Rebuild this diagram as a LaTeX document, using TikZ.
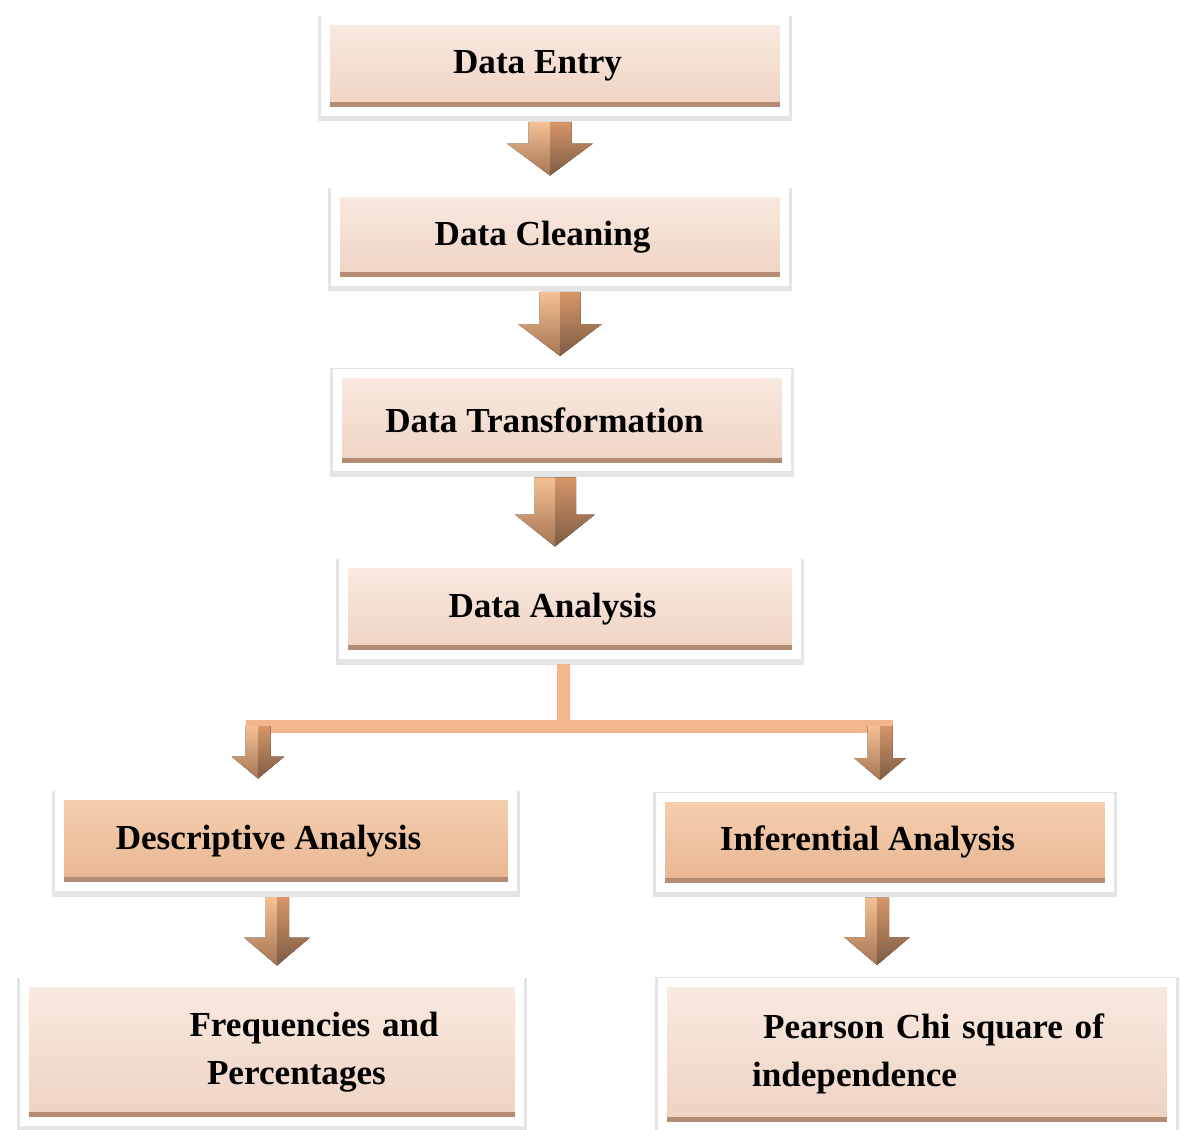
\documentclass[tikz,border=0pt]{standalone}
\usepackage{fontspec}
\setmainfont{Liberation Serif}
\usetikzlibrary{calc}

\definecolor{paletop}{RGB}{250,234,225}
\definecolor{palebot}{RGB}{238,210,194}
\definecolor{deeptop}{RGB}{245,208,178}
\definecolor{deepbot}{RGB}{232,180,144}
\definecolor{bevel}{RGB}{180,140,115}
\definecolor{barcol}{RGB}{243,182,142}
\definecolor{arrlt}{RGB}{245,192,148}
\definecolor{arrlb}{RGB}{165,118,84}
\definecolor{arrrt}{RGB}{214,150,104}
\definecolor{arrrb}{RGB}{125,92,68}

% block arrow: top point, tip point, half shaft, half head, head length
\newcommand{\blockarrow}[5]{%
  \fill[top color=arrlt, bottom color=arrlb] let \p1=#1, \p2=#2 in
    (\x1-#3,\y1) -- (\x1,\y1) -- (\x1,\y2) -- (\x1-#4,\y2+#5) -- (\x1-#3,\y2+#5) -- cycle;
  \fill[top color=arrrt, bottom color=arrrb] let \p1=#1, \p2=#2 in
    (\x1+#3,\y1) -- (\x1,\y1) -- (\x1,\y2) -- (\x1+#4,\y2+#5) -- (\x1+#3,\y2+#5) -- cycle;
}

\begin{document}
\begin{tikzpicture}[x=0.02cm, y=-0.02cm,
  stage/.style={rectangle, draw=white, line width=0.18cm, top color=paletop, bottom color=palebot,
    preaction={draw=black!10, line width=0.3cm, transform canvas={yshift=-0.05cm}},
    path picture={\draw[bevel, line width=0.1cm] ([yshift=0.14cm]path picture bounding box.south west) -- ([yshift=0.14cm]path picture bounding box.south east);},
    minimum width=9cm, minimum height=1.82cm, inner sep=0.1cm,
    font=\fontsize{20}{27}\selectfont\bfseries, execute at end node={\hspace{0.7cm}}},
  method/.style={stage, top color=deeptop, bottom color=deepbot},
  result/.style={stage, execute at end node={}, align=left},
  bar/.style={draw=barcol, line width=0.26cm}
]
\useasboundingbox (0,0) rectangle (1182,1129);

% Pipeline
\node[stage, minimum width=9.18cm] (entry) at (555,66) {Data Entry};
\node[stage, minimum width=8.98cm, minimum height=1.78cm] (clean) at (560,237) {Data Cleaning};
\node[stage, minimum width=8.98cm, minimum height=1.88cm] (trans) at (562,420) {Data Transformation};
\node[stage, minimum width=9.06cm] (anal) at (570,609) {Data Analysis};

% Two branches
\node[method, minimum width=9.08cm] (desc) at (286,841) {Descriptive Analysis};
\node[method, minimum width=8.98cm, minimum height=1.8cm] (infer) at (885,842) {Inferential Analysis};
\node[result, text width=9.7cm, minimum height=2.78cm] (freq) at (272,1052)
  {\hspace*{3.2cm}Frequencies and\\\hspace*{3.55cm}Percentages};
\node[result, text width=10cm, minimum height=2.88cm] (chi) at (917,1054)
  {\hspace*{1.92cm}Pearson Chi square of\\\hspace*{1.7cm}independence};

% Arrows down the pipeline
\blockarrow{([xshift=-0.1cm,yshift=-0.12cm]entry.south)}{([yshift=0.25cm]clean.north)}{0.43cm}{0.86cm}{0.64cm}
\blockarrow{([yshift=-0.12cm]clean.south)}{([yshift=0.25cm]trans.north)}{0.41cm}{0.84cm}{0.64cm}
\blockarrow{([xshift=-0.14cm,yshift=-0.12cm]trans.south)}{([yshift=0.25cm]anal.north)}{0.42cm}{0.8cm}{0.64cm}

% Split into the two kinds of analysis
\coordinate (fork) at (563,726);
\coordinate (lefttop) at (258,726);
\coordinate (righttop) at (880,726);
\draw[bar] ([yshift=-0.09cm]anal.south -| fork) -- (fork);
\draw[bar] ([xshift=-0.25cm]lefttop) -- ([xshift=0.25cm]righttop);
\blockarrow{(lefttop)}{([yshift=0.25cm]desc.north)}{0.25cm}{0.53cm}{0.44cm}
\blockarrow{(righttop)}{([yshift=0.25cm]infer.north)}{0.25cm}{0.52cm}{0.44cm}

% Methods
\blockarrow{([xshift=-0.18cm,yshift=-0.12cm]desc.south)}{([yshift=0.25cm]freq.north)}{0.24cm}{0.66cm}{0.56cm}
\blockarrow{([xshift=-0.16cm,yshift=-0.12cm]infer.south)}{([yshift=0.25cm]chi.north)}{0.24cm}{0.66cm}{0.56cm}
\end{tikzpicture}
\end{document}
